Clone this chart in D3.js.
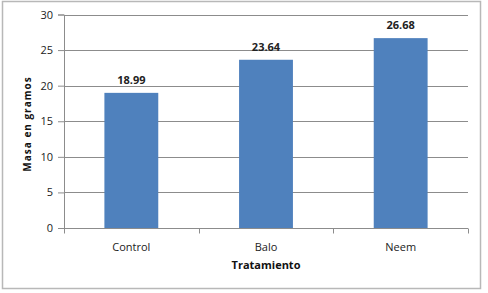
<!DOCTYPE html>
<meta charset="utf-8">
<html>
<head>
    <script src="https://d3js.org/d3.v7.min.js"></script>
    <style>
        body { margin: 0; background: #fff; }
        text { font-family: "Open Sans", "Liberation Sans", sans-serif; }
    </style>
</head>
<body>
    <script>
    // Data
    var categories = ["Control", "Balo", "Neem"];
    var values = [18.99, 23.64, 26.68];
    var yTicks = [0, 5, 10, 15, 20, 25, 30];

    var width = 488, height = 293;
    var margin = {top: 14.5, right: 20, bottom: 65, left: 64};

    var svg = d3.select("body").append("svg")
        .attr("width", width)
        .attr("height", height);

    // outer frame
    svg.append("rect")
        .attr("x", 2.5).attr("y", 1.5)
        .attr("width", 478).attr("height", 287)
        .attr("fill", "#fff")
        .attr("stroke", "#b8b8b8")
        .attr("stroke-width", 1.5);

    var x = d3.scaleBand()
        .domain(categories)
        .range([margin.left, width - margin.right])
        .paddingInner(0.6)
        .paddingOuter(0.3);

    var y = d3.scaleLinear()
        .domain([0, 30])
        .range([228, margin.top]);

    // gridlines
    svg.append("g")
        .selectAll("line")
        .data(yTicks.filter(d => d > 0))
        .join("line")
            .attr("x1", margin.left)
            .attr("x2", width - margin.right)
            .attr("y1", d => Math.round(y(d)) + 0.5)
            .attr("y2", d => Math.round(y(d)) + 0.5)
            .attr("stroke", "#8c8c8c")
            .attr("stroke-width", 1);

    // bars
    svg.append("g")
        .selectAll("rect")
        .data(values)
        .join("rect")
            .attr("x", (d, i) => x(categories[i]))
            .attr("y", d => y(d))
            .attr("width", x.bandwidth())
            .attr("height", d => y(0) - y(d))
            .attr("fill", "#4f81bd");

    // value labels
    svg.append("g")
        .selectAll("text")
        .data(values)
        .join("text")
            .attr("x", (d, i) => x(categories[i]) + x.bandwidth() / 2)
            .attr("y", d => y(d) - 9)
            .attr("text-anchor", "middle")
            .attr("font-size", "11px")
            .attr("font-weight", "bold")
            .attr("fill", "#222")
            .text(d => d3.format(".2f")(d));

    // y axis
    var yAxis = svg.append("g")
        .attr("transform", `translate(${margin.left},0)`)
        .call(d3.axisLeft(y).tickValues(yTicks).tickSize(6).tickPadding(5));
    yAxis.selectAll("path, line").attr("stroke", "#8c8c8c");
    yAxis.selectAll("text").attr("font-size", "11px").attr("fill", "#222")
        .attr("font-family", "'Open Sans', 'Liberation Sans', sans-serif");

    // x axis
    var xEdges = d3.scaleLinear().domain([0, categories.length]).range([margin.left, width - margin.right]);
    var xAxis = svg.append("g")
        .attr("transform", `translate(0,${Math.round(y(0)) + 0.5})`);
    xAxis.append("line")
        .attr("x1", margin.left).attr("x2", width - margin.right)
        .attr("stroke", "#8c8c8c");
    xAxis.selectAll(".tk")
        .data(d3.range(categories.length + 1))
        .join("line")
            .attr("class", "tk")
            .attr("x1", d => Math.round(xEdges(d)) + 0.5)
            .attr("x2", d => Math.round(xEdges(d)) + 0.5)
            .attr("y1", 0).attr("y2", 5)
            .attr("stroke", "#8c8c8c");
    xAxis.selectAll(".lbl")
        .data(categories)
        .join("text")
            .attr("class", "lbl")
            .attr("x", d => x(d) + x.bandwidth() / 2)
            .attr("y", 22)
            .attr("text-anchor", "middle")
            .attr("font-size", "11px")
            .attr("fill", "#222")
            .text(d => d);

    // axis titles
    svg.append("text")
        .attr("x", (margin.left + width - margin.right) / 2)
        .attr("y", 269)
        .attr("text-anchor", "middle")
        .attr("font-size", "11px")
        .attr("font-weight", "bold")
        .attr("fill", "#111")
        .text("Tratamiento");

    svg.append("text")
        .attr("transform", `translate(31,124) rotate(-90)`)
        .attr("text-anchor", "middle")
        .attr("font-size", "10px")
        .attr("font-weight", "bold")
        .attr("letter-spacing", "1px")
        .attr("fill", "#111")
        .text("Masa en gramos");
    </script>
</body>
</html>
